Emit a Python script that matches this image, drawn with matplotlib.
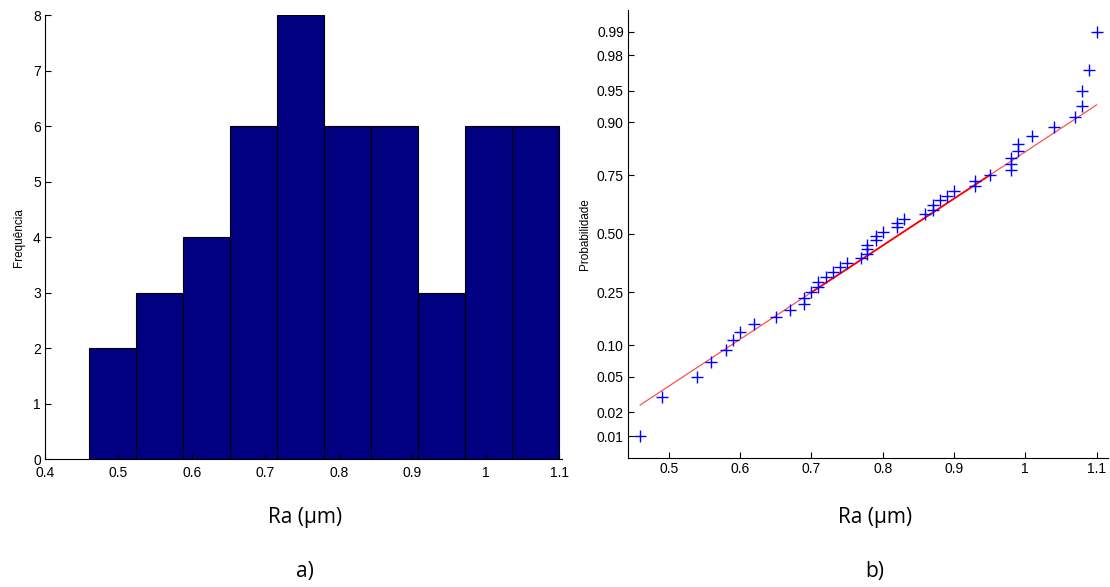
import numpy as np
import matplotlib
matplotlib.use("Agg")
import matplotlib.pyplot as plt
from statistics import NormalDist

# Ra values (um)
ra = [0.46, 0.49, 0.54, 0.56, 0.58, 0.59, 0.60, 0.62, 0.65, 0.67,
      0.69, 0.69, 0.70, 0.71, 0.71, 0.72, 0.73, 0.74, 0.75, 0.77,
      0.778, 0.778, 0.778, 0.79, 0.79, 0.80, 0.82, 0.82, 0.83, 0.86,
      0.87, 0.87, 0.88, 0.89, 0.90, 0.93, 0.93, 0.95, 0.98, 0.98,
      0.98, 0.99, 0.99, 1.01, 1.04, 1.07, 1.08, 1.08, 1.09, 1.10]
n_bins = 10
prob_ticks = [0.01, 0.02, 0.05, 0.10, 0.25, 0.50, 0.75, 0.90, 0.95, 0.98, 0.99]
hist_xticks = [0.4, 0.5, 0.6, 0.7, 0.8, 0.9, 1.0, 1.1]
norm_xticks = [0.5, 0.6, 0.7, 0.8, 0.9, 1.0, 1.1]

nd = NormalDist()
ra = np.sort(np.array(ra))
n = len(ra)
z = np.array([nd.inv_cdf((i - 0.5) / n) for i in range(1, n + 1)])

plt.rcParams['font.family'] = ['Liberation Sans', 'DejaVu Sans']

fig = plt.figure(figsize=(11.1, 5.87), dpi=100)

# a) histogram
ax1 = fig.add_axes([0.0405, 0.2175, 0.4655, 0.7569])
ax1.hist(ra, bins=n_bins, color='#000080', edgecolor='black', linewidth=0.8)
ax1.set_xlim(0.4, 1.103)
ax1.set_ylim(0, 8)
ax1.set_xticks(hist_xticks)
ax1.set_xticklabels(['0.4', '0.5', '0.6', '0.7', '0.8', '0.9', '1', '1.1'])
ax1.set_yticks(range(0, 9))
ax1.set_ylabel('Frequência', fontsize=8.5, labelpad=6)

# b) normal probability plot
ax2 = fig.add_axes([0.5658, 0.2203, 0.4324, 0.7627])
q1, q3 = np.percentile(ra, [25, 75], method='hazen')
z1, z3 = nd.inv_cdf(0.25), nd.inv_cdf(0.75)
slope = (z3 - z1) / (q3 - q1)
zmin = z1 + slope * (ra[0] - q1)
zmax = z1 + slope * (ra[-1] - q1)
ax2.plot([ra[0], ra[-1]], [zmin, zmax], color='#ff5050', linewidth=0.9)
ax2.plot([q1, q3], [z1, z3], color='red', linewidth=1.3)
ax2.plot(ra, z, '+', color='blue', markersize=8, markeredgewidth=1.0)
ax2.set_xlim(0.443, 1.116)
ax2.set_ylim(nd.inv_cdf(0.005), nd.inv_cdf(0.995))
ax2.set_xticks(norm_xticks)
ax2.set_xticklabels(['0.5', '0.6', '0.7', '0.8', '0.9', '1', '1.1'])
ax2.set_yticks([nd.inv_cdf(p) for p in prob_ticks])
ax2.set_yticklabels(['%.2f' % p for p in prob_ticks])
ax2.set_ylabel('Probabilidade', fontsize=8.5, labelpad=4)

for ax in (ax1, ax2):
    ax.spines['top'].set_visible(False)
    ax.spines['right'].set_visible(False)
    ax.tick_params(direction='in', length=4, width=0.8, labelsize=10, pad=3)
ax1.tick_params(axis='y', pad=3)
ax1.tick_params(axis='x', pad=5)

# captions
fig.text(305 / 1110, 1 - 517 / 587, 'Ra (µm)', family='Open Sans', fontsize=15,
         ha='center', va='center')
fig.text(875 / 1110, 1 - 517 / 587, 'Ra (µm)', family='Open Sans', fontsize=15,
         ha='center', va='center')
fig.text(305 / 1110, 1 - 572 / 587, 'a)', family='Open Sans', fontsize=15,
         ha='center', va='center')
fig.text(875 / 1110, 1 - 572 / 587, 'b)', family='Open Sans', fontsize=15,
         ha='center', va='center')

fig.savefig('out.png', dpi=100)
